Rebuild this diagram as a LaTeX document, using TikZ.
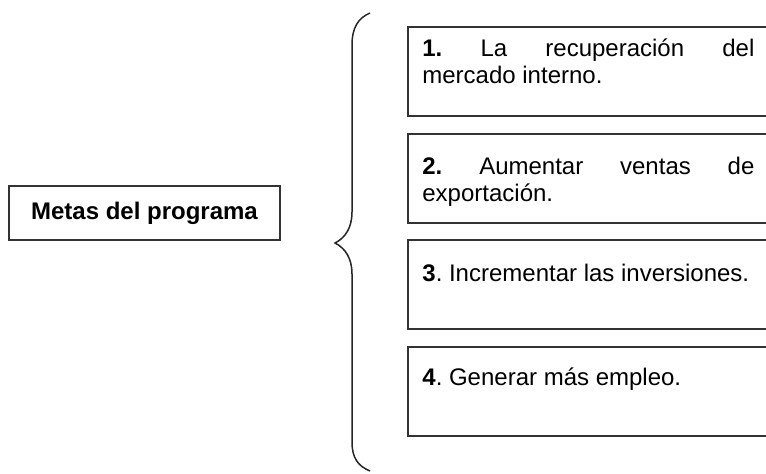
\documentclass[tikz,border=0pt]{standalone}
\usepackage{fontspec}
\setmainfont{Liberation Sans}
\hyphenpenalty=10000
\exhyphenpenalty=10000
\frenchspacing

\tikzset{
  metabox/.style={draw=black!80, line width=0.75pt, minimum width=135.5pt, minimum height=27pt, font=\fontsize{12}{13.6}\selectfont\bfseries},
  goalbox/.style={draw=black!80, line width=0.75pt, minimum width=190pt, minimum height=44.5pt, anchor=north west},
  goaltext/.style={text width=166pt, align=justify, inner sep=0pt, anchor=base west, font=\fontsize{12}{13.7}\selectfont},
  bracel/.style={line width=0.75pt, black!85}
}

\begin{document}
\begin{tikzpicture}[x=0.5pt,y=-0.5pt]

\useasboundingbox (0,0) rectangle (766,473);
\clip (0,0) rectangle (766,473);

% Left box
\node[metabox] (metas) at (144.5,213) {Metas del programa};

% Goal boxes
\node[goalbox] (g1) at (407,26) {};
\node[goalbox] (g2) at (407,133) {};
\node[goalbox] (g3) at (407,239) {};
\node[goalbox] (g4) at (407,346) {};

% Goal texts
\node[goaltext] (t1) at (422,56) {\textbf{1.} La recuperación del\linebreak mercado interno.};
\node[goaltext] (t2) at (422,174) {\textbf{2.} Aumentar ventas de\linebreak exportación.};
\node[goaltext] (t3) at (422,281) {\textbf{3}. Incrementar las inversiones.};
\node[goaltext] (t4) at (422,385) {\textbf{4}. Generar más empleo.};

% Brace
\draw[bracel] (370,13) .. controls (358,18) and (352,28) .. (352,45)
  -- (352,212) .. controls (352,228) and (345,238) .. (335,243)
  .. controls (345,248) and (352,258) .. (352,274)
  -- (352,442) .. controls (352,458) and (358,466) .. (370,471);

\end{tikzpicture}
\end{document}
